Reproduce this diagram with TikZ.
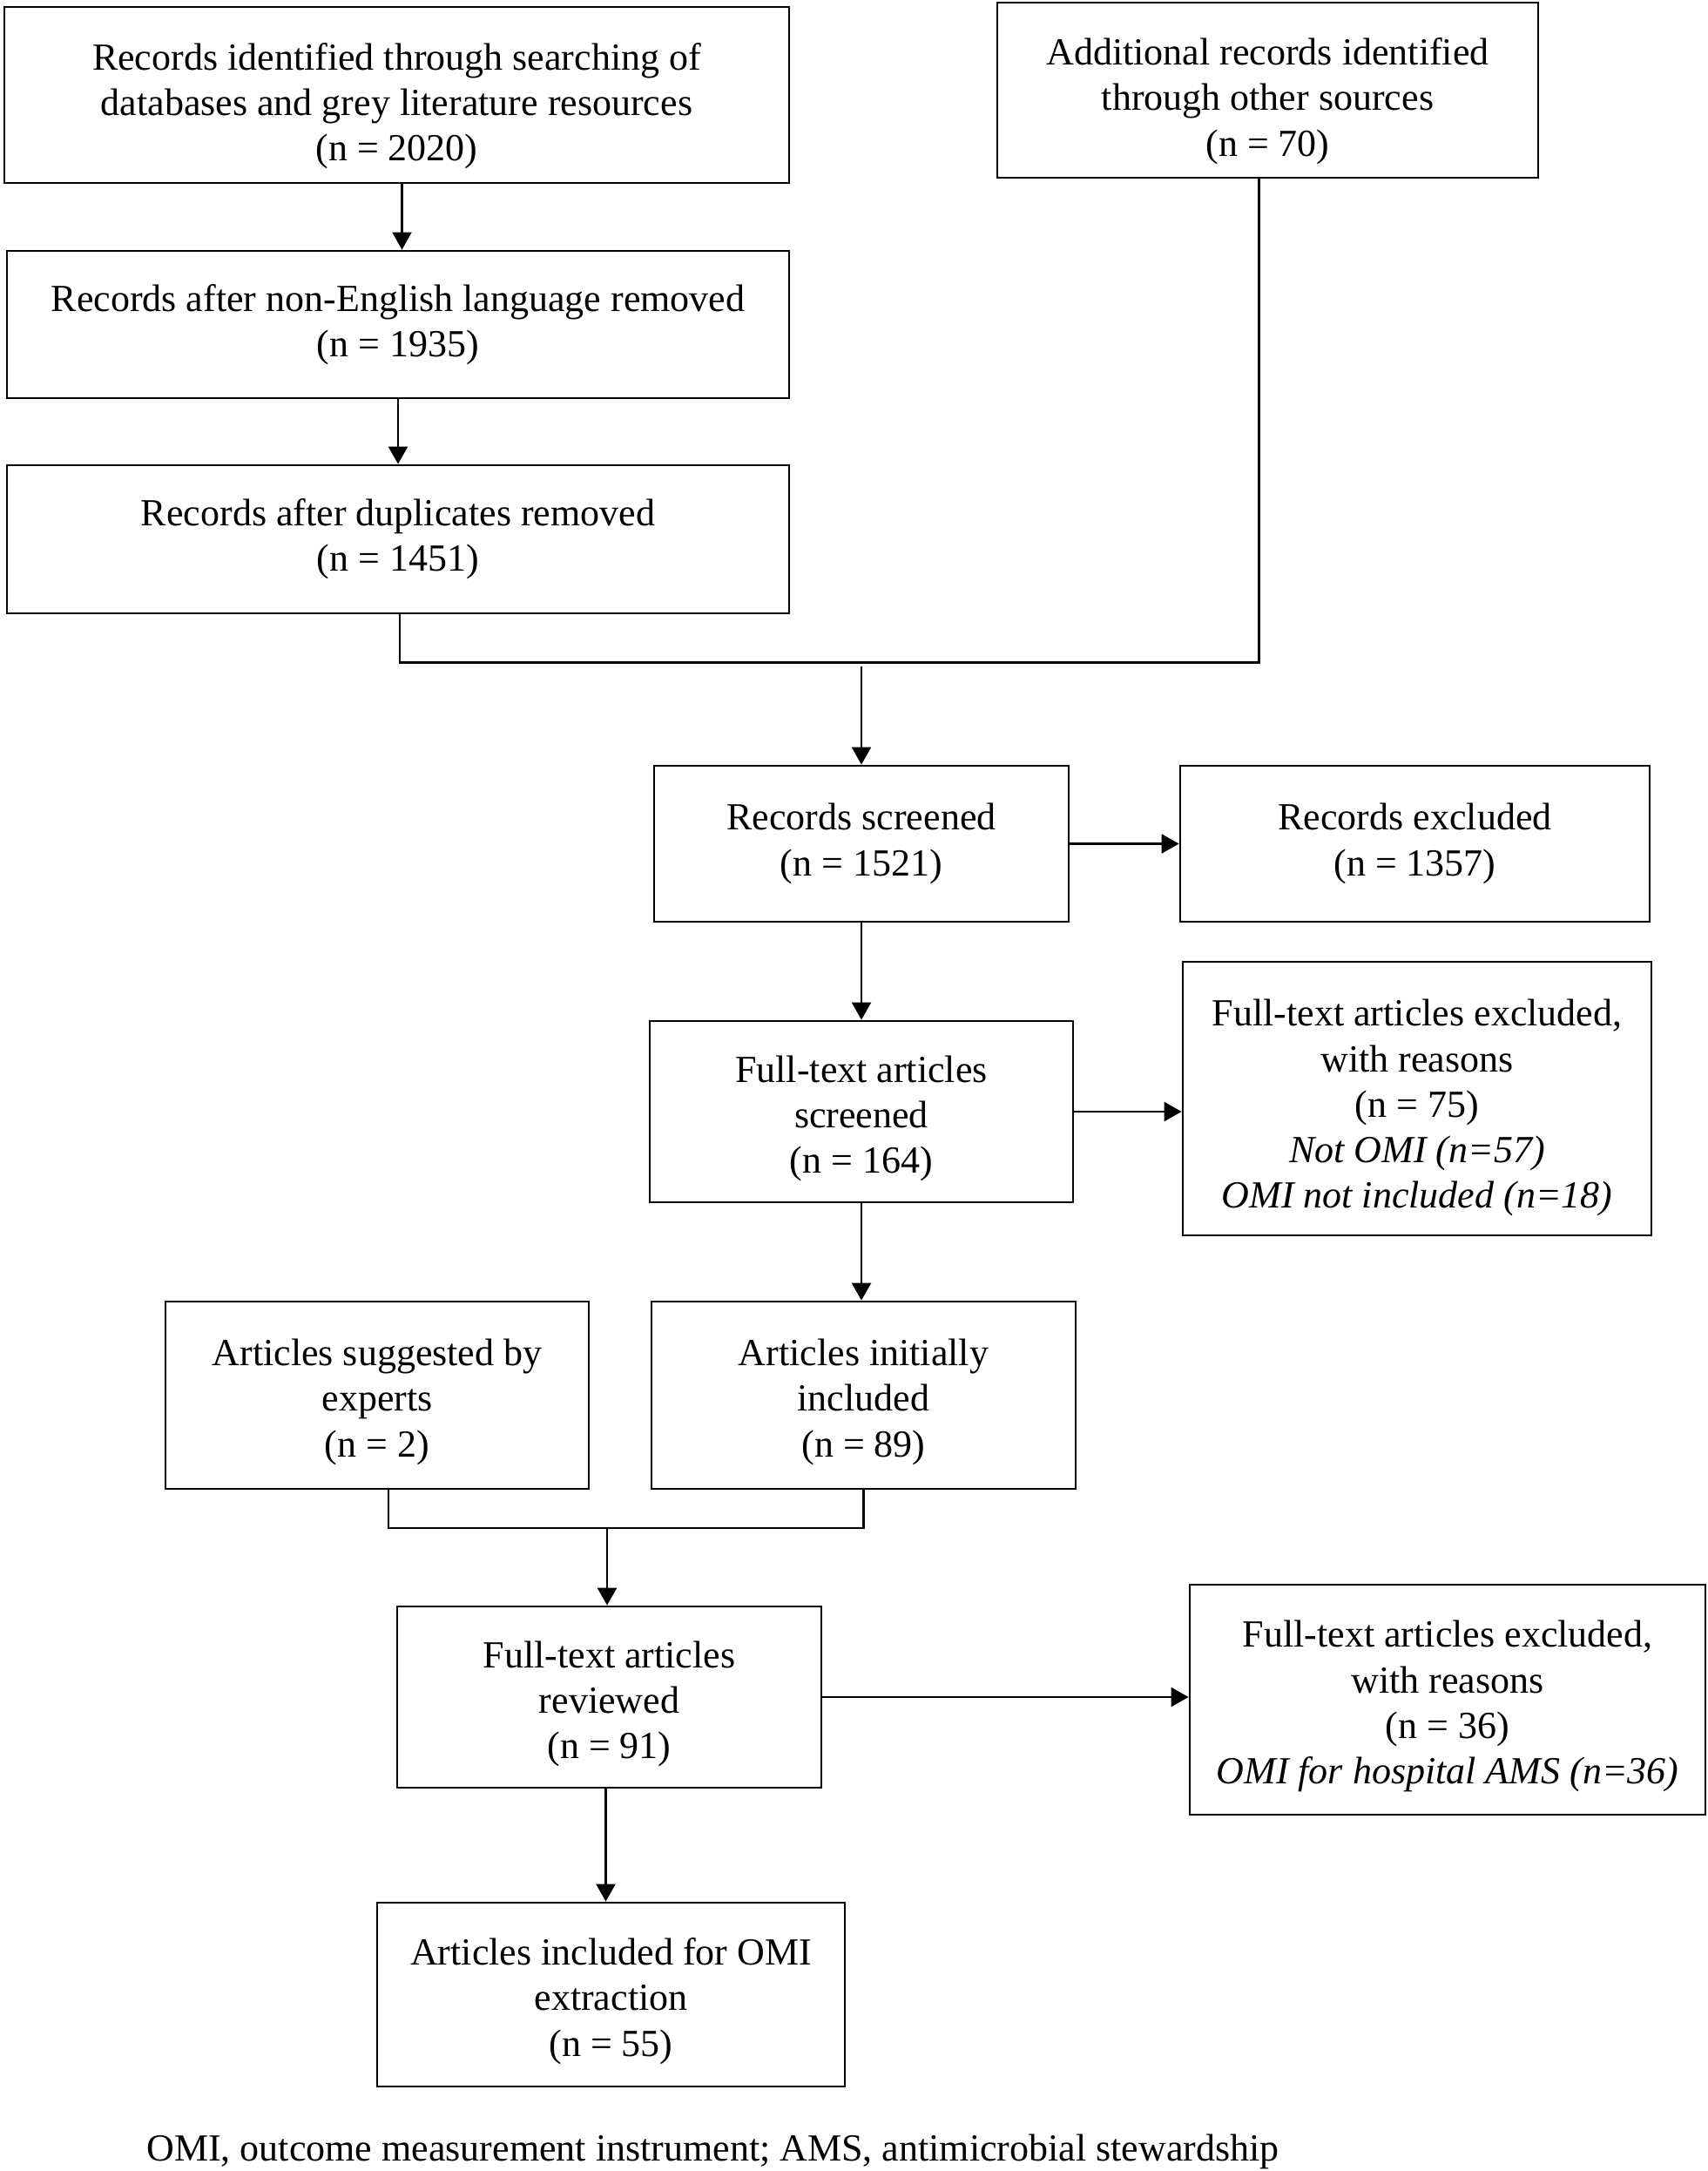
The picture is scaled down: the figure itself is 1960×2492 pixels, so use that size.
\documentclass[tikz,border=0pt]{standalone}
\usepackage{fontspec}
\setmainfont{Liberation Serif}
\usetikzlibrary{arrows.meta}

% zero-width strut on a first line, pushes the text block down a little
\newcommand{\sinkby}[1]{\rule{0pt}{#1}}

\tikzset{
    flowbox/.style={draw, line width=1.4pt, align=center, inner sep=0pt,
        font=\fontsize{22}{26.15}\selectfont},
    link/.style={line width=1.2pt},
    arr/.style={link, -{Triangle[length=10pt, width=11pt]}}
}

\begin{document}
\begin{tikzpicture}[x=0.5pt, y=-0.5pt]
        \useasboundingbox (0, 0) rectangle (1960, 2492);

        % identification
        \node[flowbox, minimum width=450.5pt, minimum height=101pt] (rec) at (455.5, 109)
            {\sinkby{28pt}Records identified through searching of\\databases and grey literature resources\\(n = 2020)};
        \node[flowbox, minimum width=310.5pt, minimum height=100.5pt] (add) at (1455.5, 103.5)
            {\sinkby{28pt}Additional records identified\\through other sources\\(n = 70)};
        \node[flowbox, minimum width=449pt, minimum height=84.5pt] (eng) at (457, 372.5)
            {Records after non-English language removed\\(n = 1935)};
        \node[flowbox, minimum width=449pt, minimum height=85pt] (dup) at (457, 619)
            {Records after duplicates removed\\(n = 1451)};

        % screening
        \node[flowbox, minimum width=238pt, minimum height=89.5pt] (scr) at (989, 968.5)
            {Records screened\\(n = 1521)};
        \node[flowbox, minimum width=269.5pt, minimum height=89.5pt] (exc) at (1624.5, 968.5)
            {Records excluded\\(n = 1357)};
        \node[flowbox, minimum width=243pt, minimum height=104pt] (fts) at (989, 1276)
            {\sinkby{23pt}Full-text articles\\screened\\(n = 164)};
        \node[flowbox, minimum width=269pt, minimum height=157pt] (fte) at (1627, 1261)
            {\sinkby{26pt}Full-text articles excluded,\\with reasons\\(n = 75)\\\textit{Not OMI (n=57)}\\\textit{OMI not included (n=18)}};

        % eligibility
        \node[flowbox, minimum width=243pt, minimum height=107.5pt] (sug) at (433, 1601.5)
            {\sinkby{23pt}Articles suggested by\\experts\\(n = 2)};
        \node[flowbox, minimum width=243.5pt, minimum height=107.5pt] (ini) at (991.5, 1601.5)
            {\sinkby{23pt}Articles initially\\included\\(n = 89)};
        \node[flowbox, minimum width=243.5pt, minimum height=104pt] (rev) at (699.5, 1948)
            {\sinkby{23pt}Full-text articles\\reviewed\\(n = 91)};
        \node[flowbox, minimum width=296pt, minimum height=132pt] (rex) at (1662, 1951)
            {\sinkby{23pt}Full-text articles excluded,\\with reasons\\(n = 36)\\\textit{OMI for hospital AMS (n=36)}};

        % included
        \node[flowbox, minimum width=268.5pt, minimum height=105.5pt] (inc) at (701.5, 2289.5)
            {\sinkby{23pt}Articles included for OMI\\extraction\\(n = 55)};

        \node[anchor=base west, inner sep=0pt, font=\fontsize{22}{26.15}\selectfont] (note) at (168, 2480)
            {OMI, outcome measurement instrument; AMS, antimicrobial stewardship};

        \coordinate (merge1) at (989, 765);
        \coordinate (merge2) at (697, 1754);

        \draw[arr] ([xshift=3pt]rec.south) -- ([xshift=3pt]rec.south |- eng.north);
        \draw[arr] (eng.south) -- (eng.south |- dup.north);
        \draw[link] ([xshift=1pt]dup.south) -- ++(0, 55) -| ([xshift=-5pt]add.south);
        \draw[arr] (merge1) -- (scr.north);
        \draw[arr] (scr.east) -- (exc.west);
        \draw[arr] (scr.south) -- (fts.north);
        \draw[arr] (fts.east) -- (fts.east -| fte.west);
        \draw[arr] (fts.south) -- (fts.south |- ini.north);
        \draw[link] ([xshift=6.5pt]sug.south) -- ([xshift=6.5pt]sug.south |- merge2) -| (ini.south);
        \draw[arr] (merge2) -- (merge2 |- rev.north);
        \draw[arr] (rev.east) -- (rev.east -| rex.west);
        \draw[arr] ([xshift=-2pt]rev.south) -- ([xshift=-2pt]rev.south |- inc.north);
    \end{tikzpicture}
\end{document}
